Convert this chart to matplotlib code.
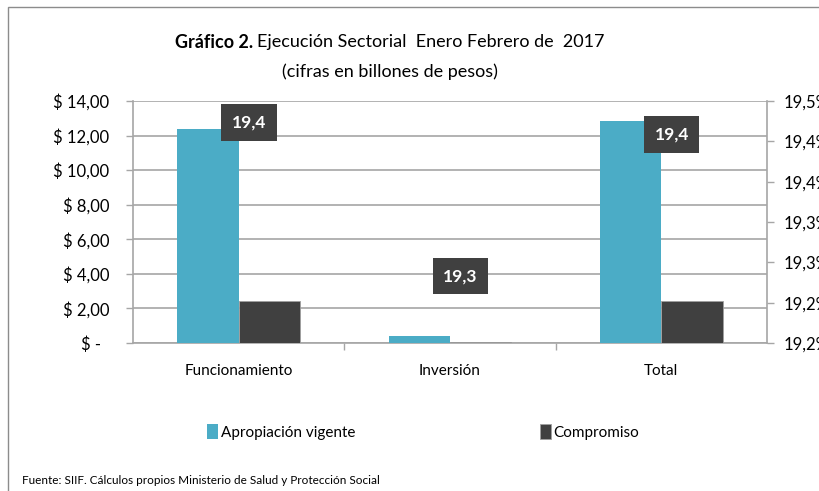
import numpy as np
from matplotlib import pyplot as plt
from matplotlib.patches import Rectangle

categorias = ['Funcionamiento', 'Inversión', 'Total']
apropiacion = [12.40, 0.42, 12.85]
compromiso = [2.45, 0.04, 2.45]
ejecucion = [19.445, 19.255, 19.43]   # % compromiso / apropiacion (eje derecho)
ticks_izq = [0, 2, 4, 6, 8, 10, 12, 14]
ticks_der = [19.15, 19.20, 19.25, 19.30, 19.35, 19.40, 19.45]

azul = '#4BACC6'
gris_osc = '#404040'
grid_c = '#A6A6A6'

plt.rcParams['font.family'] = ['Lato', 'DejaVu Sans']

fig = plt.figure(figsize=(8.2, 4.91), dpi=100)
fig.patches.append(Rectangle((8 / 820, -0.1), 1.2, 1 - 7 / 491 + 0.1,
                             transform=fig.transFigure, fill=False,
                             edgecolor='#8C8C8C', linewidth=1))

ax = fig.add_axes([133 / 820, 1 - 343 / 491, 634 / 820, 242 / 491])
x = np.arange(len(categorias))
w = 0.29
b1 = ax.bar(x - w / 2, apropiacion, w, color=azul, label='Apropiación vigente', zorder=3)
b2 = ax.bar(x + w / 2, compromiso, w, color=gris_osc, label='Compromiso', zorder=3,
            edgecolor='#A0A0A0', linewidth=0.6)

ax.set_xlim(-0.5, 2.5)
ax.set_ylim(0, 14)
ax.set_yticks(ticks_izq)
ax.set_yticklabels(['$ -  '] + ['$ %s' % ('%.2f' % v).replace('.', ',') for v in ticks_izq[1:]],
                   fontsize=12)
ax.yaxis.grid(True, color=grid_c, linewidth=1.2, zorder=0)
ax.set_xticks(x)
ax.set_xticklabels(categorias, fontsize=11)
ax.set_xticks([0.5, 1.5], minor=True)
ax.tick_params(axis='x', which='major', length=0, pad=15)
ax.tick_params(axis='x', which='minor', length=5, color=grid_c, width=1)
ax.tick_params(axis='y', length=5, color=grid_c, width=1, pad=12)
for s in ['top', 'right']:
    ax.spines[s].set_visible(False)
for s in ['left', 'bottom']:
    ax.spines[s].set_color(grid_c)
    ax.spines[s].set_linewidth(1.2)

ax2 = ax.twinx()
ax2.set_ylim(19.15, 19.45)
ax2.set_yticks(ticks_der)
ax2.set_yticklabels([('%.1f%%' % v).replace('.', ',') for v in np.round(np.array(ticks_der) + 1e-9, 1)],
                    fontsize=12)
ax2.tick_params(axis='y', length=5, color=grid_c, width=1, pad=7)
for s in ['top', 'left', 'bottom']:
    ax2.spines[s].set_visible(False)
ax2.spines['right'].set_color(grid_c)
ax2.spines['right'].set_linewidth(1.2)
for xi, v in zip(x, ejecucion):
    ax2.annotate(('%.1f' % v).replace('.', ','), (xi, v), xytext=(7.5, -7),
                 textcoords='offset points', ha='center', va='top',
                 fontsize=12.5, fontweight='bold', color='white',
                 bbox=dict(boxstyle='square,pad=0.6', fc=gris_osc, ec='none'))

# titulo: parte en negrita + parte normal, centrado en conjunto
t1 = fig.text(0, 1 - 42 / 491, 'Gráfico 2.', fontsize=13, fontweight='bold',
              ha='left', va='center')
t2 = fig.text(0, 1 - 42 / 491, 'Ejecución Sectorial  Enero Febrero de  2017',
              fontsize=13, ha='left', va='center')
fig.canvas.draw()
w1 = t1.get_window_extent().width
w2 = t2.get_window_extent().width
x0 = 390 - (w1 + 4 + w2) / 2
t1.set_x(x0 / 820)
t2.set_x((x0 + w1 + 4) / 820)
fig.text(390 / 820, 1 - 72 / 491, '(cifras en billones de pesos)', fontsize=13,
         ha='center', va='center')

leg_kw = dict(frameon=False, fontsize=11, handlelength=0.75, handleheight=1.1,
              handletextpad=0.15, borderpad=0, borderaxespad=0, loc='center left')
fig.legend([b1], ['Apropiación vigente'], bbox_to_anchor=(207 / 820, 1 - 432 / 491), **leg_kw)
fig.legend([b2], ['Compromiso'], bbox_to_anchor=(540 / 820, 1 - 432 / 491), **leg_kw)

fig.text(22 / 820, 1 - 481 / 491, 'Fuente: SIIF. Cálculos propios Ministerio de Salud y Protección Social',
         fontsize=8.5, ha='left', va='center')

fig.savefig('out.png', dpi=100)
